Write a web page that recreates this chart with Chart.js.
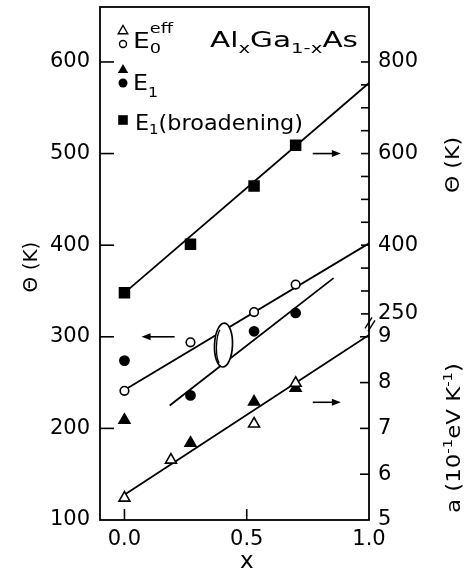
<!DOCTYPE html>
<html>
<head>
<meta charset="utf-8">
<script src="https://cdn.jsdelivr.net/npm/chart.js@4.4.1/dist/chart.umd.min.js"></script>
<style>
  html, body { margin: 0; padding: 0; background: #fff; }
  #wrap { width: 466px; height: 573px; }
</style>
</head>
<body>
<div id="wrap"><canvas id="chart" width="466" height="573"></canvas></div>
<script>
/* E1 broadening (squares), Θ in K on the right-hand scale */
const xBroad = [0.0, 0.27, 0.53, 0.70];
const thetaBroad = [296, 402, 529, 618];

/* E0eff (open) and E1 (filled) circles, Θ in K on the left scale */
const xCircle = [0.0, 0.27, 0.53, 0.70];
const thetaE0 = [241, 294, 327, 357];
const thetaE1 = [274, 236, 306, 326];

/* triangles: a in 1e-1 eV/K, lower right scale */
const xTriOpen = [0.0, 0.19, 0.53, 0.70];
const aE0 = [5.48, 6.31, 7.10, 7.99];
const xTriFill = [0.0, 0.27, 0.53, 0.70];
const aE1 = [7.18, 6.68, 7.58, 7.88];

/* straight-line fits (end points) */
const fitBroadX = [0.0, 1.0], fitBroadY = [296, 754];
const fitE0X = [0.0, 1.0], fitE0Y = [242, 402];
const fitE1X = [0.185, 0.855], fitE1Y = [225, 364];
const fitAX = [0.0, 1.0], fitAY = [5.55, 9.04];

/* tick labels */
const leftLabels = [100, 200, 300, 400, 500, 600];
const thetaRightLabels = [250, 400, 600, 800];
const aLabels = [5, 6, 7, 8, 9];
const xLabels = [0.0, 0.5, 1.0];

const FONT = '"DejaVu Sans"';
const INK = '#000';

const pts = (xs, ys) => xs.map((x, i) => ({ x, y: ys[i] }));

// rich text: parts are [text, kind]; kind 'sub', 'sup' or 'stack' (text = [sub, sup])
function drawRich(ctx, parts, x, y, size, o = {}) {
  const small = Math.round(size * 0.66);
  const big = `${size}px ${FONT}`, sm = `${small}px ${FONT}`;
  const supOff = o.supOff ?? -0.42 * size, subOff = o.subOff ?? 0.3 * size;
  const w = p => {
    if (!p[1]) { ctx.font = big; return ctx.measureText(p[0]).width; }
    ctx.font = sm;
    if (p[1] === 'stack') return Math.max(ctx.measureText(p[0][0]).width, ctx.measureText(p[0][1]).width);
    return ctx.measureText(p[0]).width;
  };
  const total = parts.reduce((s, p) => s + w(p), 0);
  const sx = o.width ? o.width / total : 1;
  ctx.save();
  ctx.translate(x, y);
  if (o.rotate) ctx.rotate(o.rotate);
  ctx.scale(sx, 1);
  ctx.fillStyle = INK;
  ctx.textAlign = 'left';
  ctx.textBaseline = 'alphabetic';
  let cx = o.center ? -total / 2 : 0;
  parts.forEach(p => {
    const pw = w(p);
    if (!p[1]) { ctx.font = big; ctx.fillText(p[0], cx, 0); }
    else if (p[1] === 'sub') { ctx.font = sm; ctx.fillText(p[0], cx, subOff); }
    else if (p[1] === 'sup') { ctx.font = sm; ctx.fillText(p[0], cx, supOff); }
    else { ctx.font = sm; ctx.fillText(p[0][0], cx, subOff); ctx.fillText(p[0][1], cx, supOff); }
    cx += pw;
  });
  ctx.restore();
}

function arrow(ctx, x1, y1, x2, y2) {
  const dir = Math.sign(x2 - x1);
  ctx.beginPath();
  ctx.moveTo(x1, y1); ctx.lineTo(x2 - dir * 6, y2);
  ctx.stroke();
  ctx.beginPath();
  ctx.moveTo(x2, y2);
  ctx.lineTo(x2 - dir * 9, y2 - 3.5);
  ctx.lineTo(x2 - dir * 9, y2 + 3.5);
  ctx.closePath();
  ctx.fill();
}

function marker(ctx, style, cx, cy, r, filled) {
  ctx.beginPath();
  if (style === 'tri') {
    ctx.moveTo(cx, cy - r);
    ctx.lineTo(cx + r * 0.866, cy + r * 0.5);
    ctx.lineTo(cx - r * 0.866, cy + r * 0.5);
    ctx.closePath();
  } else if (style === 'circ') {
    ctx.arc(cx, cy, r, 0, Math.PI * 2);
  } else {
    ctx.rect(cx - r, cy - r, 2 * r, 2 * r);
  }
  if (filled) ctx.fill(); else { ctx.fillStyle = '#fff'; ctx.fill(); ctx.fillStyle = INK; ctx.stroke(); }
}

// arrows pointing to the scale each group belongs to
const arrowBroad = { axis: 'yR', v: 600, from: 0.77, to: 0.885 };
const arrowCircle = { axis: 'y', v: 300, from: 0.205, to: 0.07 };
const arrowTri = { axis: 'yA', v: 7.57, from: 0.77, to: 0.885 };
// ellipse grouping the two circle fits
const ring = { x: 0.405, y: 291, rx: 9, ry: 22 };

const decor = {
  id: 'decor',
  afterDatasetsDraw(chart) {
    const { ctx, chartArea: a } = chart;
    const s = chart.scales;
    ctx.save();
    ctx.strokeStyle = INK;
    ctx.fillStyle = INK;
    ctx.lineWidth = 1.7;

    // ellipse over the two circle fit lines
    ctx.save();
    ctx.translate(s.x.getPixelForValue(ring.x), s.y.getPixelForValue(ring.y));
    ctx.rotate(0.04);
    ctx.beginPath();
    ctx.ellipse(0, 0, ring.rx, ring.ry, 0, 0, Math.PI * 2);
    ctx.fillStyle = '#fff';
    ctx.fill();
    ctx.stroke();
    ctx.beginPath();
    ctx.ellipse(-2, 1, ring.rx - 4, ring.ry - 4, 0, Math.PI * 0.6, Math.PI * 1.35);
    ctx.lineWidth = 1.3;
    ctx.stroke();
    ctx.restore();

    ctx.lineWidth = 1.6;
    [arrowBroad, arrowCircle, arrowTri].forEach(ar => {
      const py = s[ar.axis].getPixelForValue(ar.v);
      arrow(ctx, s.x.getPixelForValue(ar.from), py, s.x.getPixelForValue(ar.to), py);
    });

    // frame
    ctx.lineWidth = 1.8;
    ctx.strokeRect(a.left, a.top, a.right - a.left, a.bottom - a.top);

    // inward ticks
    ctx.lineWidth = 1.6;
    const line = (x1, y1, x2, y2) => { ctx.beginPath(); ctx.moveTo(x1, y1); ctx.lineTo(x2, y2); ctx.stroke(); };
    s.x.ticks.forEach(t => {
      const k = Math.round(t.value * 10);
      if (k < 0 || k >= 10) return;
      const px = s.x.getPixelForValue(t.value);
      line(px, a.bottom, px, a.bottom - (k % 5 === 0 ? 11 : 6));
    });
    s.y.ticks.forEach(t => {
      const v = Math.round(t.value);
      if (v <= 100 || v >= 660 || v % 50) return;
      const py = s.y.getPixelForValue(v);
      line(a.left, py, a.left + (v % 100 === 0 ? 14 : 6), py);
    });
    s.yR.ticks.forEach(t => {
      const v = Math.round(t.value);
      if (v < 250 || v > 800 || v % 50) return;
      const py = s.yR.getPixelForValue(v);
      line(a.right, py, a.right - 8, py);
    });
    s.yA.ticks.forEach(t => {
      const v = t.value;
      if (v <= 5 || v > 9) return;
      const py = s.yA.getPixelForValue(v);
      line(a.right, py, a.right - 9, py);
    });

    // scale break between the two right-hand scales
    const yb = (s.yR.getPixelForValue(250) + s.yA.getPixelForValue(9)) / 2 - 3;
    ctx.lineWidth = 1.4;
    line(a.right - 4, yb + 6, a.right + 3, yb - 5);
    line(a.right - 1, yb + 9, a.right + 6, yb - 2);

    // right-hand Θ labels
    ctx.font = `21px ${FONT}`;
    ctx.textAlign = 'left';
    ctx.textBaseline = 'middle';
    thetaRightLabels.forEach(v => ctx.fillText(String(v), a.right + 9, s.yR.getPixelForValue(v)));

    // axis titles
    drawRich(ctx, [['Θ (K)']], 37, 267, 20, { rotate: -Math.PI / 2, center: true });
    drawRich(ctx, [['Θ (K)']], 459, 165, 20, { rotate: -Math.PI / 2, center: true, width: 56 });
    drawRich(ctx, [['a (10'], ['-1', 'sup'], ['eV K'], ['-1', 'sup'], [')']], 460, 438, 20,
      { rotate: -Math.PI / 2, center: true, width: 150 });
    ctx.font = `23px ${FONT}`;
    ctx.textAlign = 'center';
    ctx.textBaseline = 'alphabetic';
    ctx.fillText('x', s.x.getPixelForValue(0.5), 568);

    // compound name
    drawRich(ctx, [['Al'], ['x', 'sub'], ['Ga'], ['1-x', 'sub'], ['As']], 210, 47, 21, { width: 148 });

    // key
    ctx.lineWidth = 1.4;
    marker(ctx, 'tri', 123, 31, 5.5, false);
    marker(ctx, 'circ', 123, 44, 3.5, false);
    drawRich(ctx, [['E'], [['0', 'eff'], 'stack']], 133, 48, 21, { supOff: -15, subOff: 5, width: 40 });
    marker(ctx, 'tri', 123, 70, 6, true);
    marker(ctx, 'circ', 123, 83, 4.5, true);
    drawRich(ctx, [['E'], ['1', 'sub']], 133, 90, 21, { subOff: 7, width: 25 });
    marker(ctx, 'rect', 123, 120, 4.8, true);
    drawRich(ctx, [['E'], ['1', 'sub'], ['(broadening)']], 135, 130, 21, { subOff: 4, width: 168 });

    ctx.restore();
  }
};

const tickFont = { family: FONT, size: 21 };
const markerSet = (label, xs, ys, axis, style, r, filled) => ({
  label, data: pts(xs, ys), yAxisID: axis,
  pointStyle: style, pointRadius: r, pointHoverRadius: r,
  pointBackgroundColor: filled ? INK : '#fff', pointBorderColor: INK,
  pointBorderWidth: 1.6, showLine: false
});
const fitSet = (label, xs, ys, axis) => ({
  label, data: pts(xs, ys), yAxisID: axis, showLine: true,
  borderColor: INK, borderWidth: 1.8, pointRadius: 0, pointHoverRadius: 0, fill: false
});

// fixed axis boxes so the plot frame sits where it should
const vFit = w => sc => { sc.width = w; sc.paddingTop = 0; sc.paddingBottom = 0; };

new Chart(document.getElementById('chart'), {
  type: 'scatter',
  data: {
    datasets: [
      markerSet('E1 (broadening)', xBroad, thetaBroad, 'yR', 'rect', 7, true),
      markerSet('E0eff', xCircle, thetaE0, 'y', 'circle', 4.3, false),
      markerSet('E1', xCircle, thetaE1, 'y', 'circle', 4.6, true),
      markerSet('E0eff a', xTriOpen, aE0, 'yA', 'triangle', 6.3, false),
      markerSet('E1 a', xTriFill, aE1, 'yA', 'triangle', 6.3, true),
      fitSet('fit broadening', fitBroadX, fitBroadY, 'yR'),
      fitSet('fit E0eff', fitE0X, fitE0Y, 'y'),
      fitSet('fit E1', fitE1X, fitE1Y, 'y'),
      fitSet('fit a', fitAX, fitAY, 'yA')
    ]
  },
  options: {
    responsive: false,
    animation: false,
    devicePixelRatio: 1,
    layout: { autoPadding: false, padding: { top: 7, left: 0, right: 0, bottom: 0 } },
    plugins: { legend: { display: false }, tooltip: { enabled: false } },
    scales: {
      x: {
        type: 'linear', position: 'bottom', min: -0.1, max: 1.0,
        grid: { display: false, drawTicks: false }, border: { display: false },
        ticks: {
          stepSize: 0.1, autoSkip: false, maxRotation: 0, padding: 7, color: INK, font: tickFont,
          callback: v => {
            const hit = xLabels.find(l => Math.abs(l - v) < 1e-6);
            return hit === undefined ? null : hit.toFixed(1);
          }
        },
        afterFit: sc => { sc.height = 53; sc.paddingLeft = 0; sc.paddingRight = 0; }
      },
      y: {
        position: 'left', min: 100, max: 660,
        grid: { display: false, drawTicks: false }, border: { display: false },
        ticks: {
          stepSize: 50, autoSkip: false, padding: 10, color: INK, font: tickFont,
          callback: v => leftLabels.includes(v) ? String(v) : null
        },
        afterFit: vFit(100)
      },
      yA: {
        position: 'right', min: 5, max: 16.2,
        grid: { display: false, drawTicks: false }, border: { display: false },
        ticks: {
          stepSize: 1, autoSkip: false, padding: 9, color: INK, font: tickFont,
          callback: v => aLabels.includes(v) ? String(v) : null
        },
        afterFit: vFit(97)
      },
      yR: {
        display: false, position: 'right', min: -200, max: 920,
        ticks: { stepSize: 50 }
      }
    }
  },
  plugins: [decor]
});
</script>
</body>
</html>
